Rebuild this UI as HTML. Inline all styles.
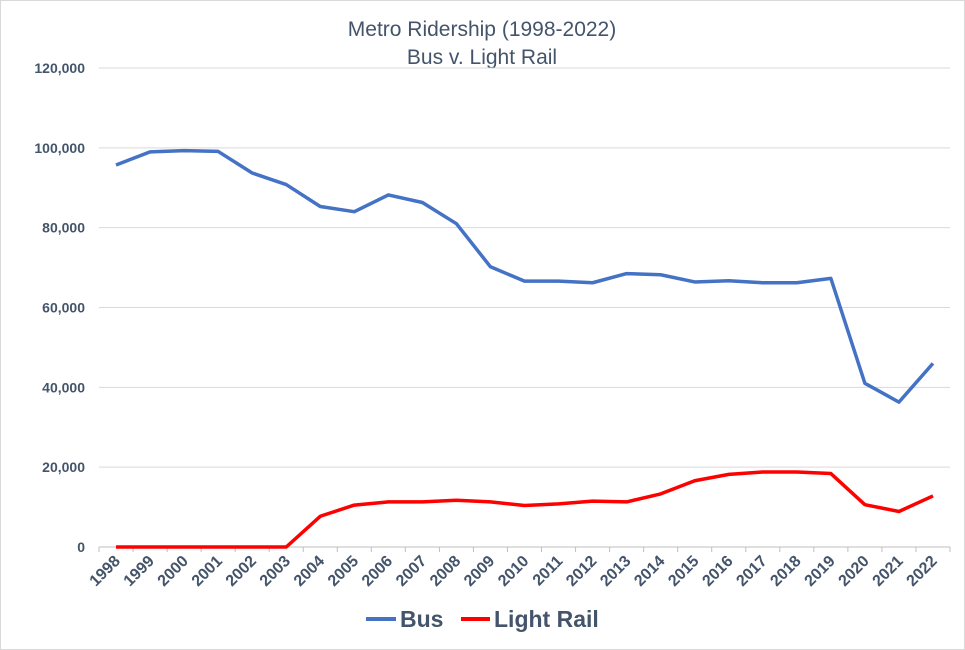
<!DOCTYPE html>
<html><head><meta charset="utf-8"><style>
body{margin:0;background:#fff;}
svg{display:block;font-family:"Liberation Sans",Arial,sans-serif;}
</style></head><body>
<svg id="chart" width="965" height="650" viewBox="0 0 965 650">
<rect x="0.5" y="0.5" width="964" height="649" fill="#fff" stroke="#d9d9d9"/>
<text x="482" y="36" text-anchor="middle" font-size="21" fill="#44546a">Metro Ridership (1998-2022)</text>
<text x="482" y="64" text-anchor="middle" font-size="21" fill="#44546a">Bus v. Light Rail</text>
<g id="grid"></g><g id="axes"></g><g id="series"></g>
<g>
<line x1="366" y1="619" x2="396" y2="619" stroke="#4472c4" stroke-width="4"/>
<text x="400" y="627" font-size="23" font-weight="bold" fill="#44546a">Bus</text>
<line x1="461" y1="619" x2="490" y2="619" stroke="#ff0000" stroke-width="4"/>
<text x="494" y="627" font-size="23" font-weight="bold" fill="#44546a">Light Rail</text>
</g>
</svg>
<script>
const years=["1998","1999","2000","2001","2002","2003","2004","2005","2006","2007","2008","2009","2010","2011","2012","2013","2014","2015","2016","2017","2018","2019","2020","2021","2022"];
const busValues=[95700,99000,99300,99100,93700,90800,85300,84000,88200,86300,81000,70200,66600,66600,66200,68500,68200,66400,66700,66200,66200,67300,41000,36300,46000];
const railValues=[0,0,0,0,0,0,7700,10500,11300,11300,11700,11300,10400,10800,11500,11300,13300,16600,18200,18800,18800,18400,10600,8900,12800];
const yTicks=[0,20000,40000,60000,80000,100000,120000];
const yTickLabels=["0","20,000","40,000","60,000","80,000","100,000","120,000"];
const NS="http://www.w3.org/2000/svg";
const pLeft=99,pRight=950,pTop=68,pBottom=547,yMax=120000;
const bw=(pRight-pLeft)/years.length;
const xs=i=>pLeft+bw*(i+0.5);
const ys=v=>pBottom-(v/yMax)*(pBottom-pTop);
function mk(tag,attrs,parent){const e=document.createElementNS(NS,tag);for(const k in attrs)e.setAttribute(k,attrs[k]);document.getElementById(parent).appendChild(e);return e;}
yTicks.forEach((t,i)=>{
  if(t>0){const g=mk('line',{x1:pLeft,x2:pRight,y1:ys(t),y2:ys(t),stroke:'#d9d9d9','stroke-width':1},'grid');
  
  }
  const l=mk('text',{x:85,y:ys(t)+5,'text-anchor':'end','font-size':14,'font-weight':'bold',fill:'#44546a'},'axes');
  l.textContent=yTickLabels[i];
  
  
});
const ax=mk('line',{x1:pLeft,x2:pRight,y1:pBottom,y2:pBottom,stroke:'#bfbfbf','stroke-width':1},'axes');


for(let i=0;i<=years.length;i++){const tk=mk('line',{x1:pLeft+bw*i,x2:pLeft+bw*i,y1:pBottom,y2:pBottom+5,stroke:'#bfbfbf'},'axes');

}
years.forEach((y,i)=>{
  const x=xs(i)+5,yy=pBottom+15;
  const t=mk('text',{x:x,y:yy,'text-anchor':'end','font-size':16,'font-weight':'bold',fill:'#44546a',transform:`rotate(-45 ${x} ${yy})`},'axes');
  t.textContent=y;
  
  
});
function drawLine(vals,color,name){
  const p=mk('polyline',{points:vals.map((v,i)=>xs(i)+','+ys(v)).join(' '),fill:'none',stroke:color,'stroke-width':3.5,'stroke-linejoin':'round'},'series');
  
  
}
drawLine(busValues,'#4472c4','bus-line');
drawLine(railValues,'#ff0000','light-rail-line');
</script>
</body></html>
